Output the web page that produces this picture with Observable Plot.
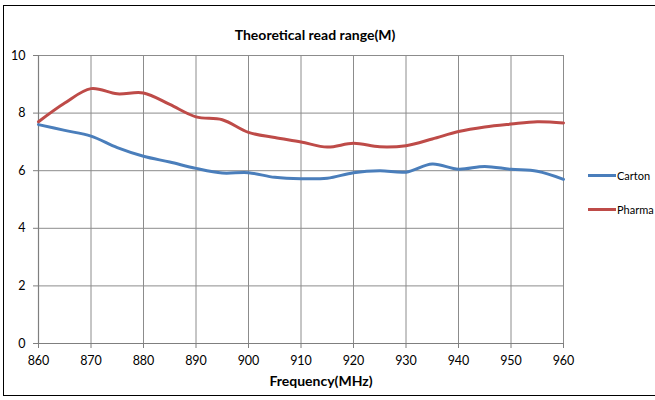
<!DOCTYPE html>
<html>
<head>
<meta charset="utf-8">
<script src="https://cdn.jsdelivr.net/npm/d3@7"></script>
<script src="https://cdn.jsdelivr.net/npm/@observablehq/plot@0.6"></script>
<style>
  html, body { margin: 0; padding: 0; background: #fff; }
  body { width: 655px; height: 400px; overflow: hidden; position: relative; font-family: Lato, "Open Sans", sans-serif; }
  #frame { position: absolute; left: 3px; top: 5px; width: 670px; height: 391px; border: 1px solid #000; box-sizing: border-box; pointer-events: none; }
  #chart { position: absolute; left: 0; top: 0; }
  #legend { position: absolute; left: 588px; top: 167px; font-size: 11px; color: #000; }
  .item { display: flex; align-items: center; height: 17px; margin-bottom: 17px; white-space: nowrap; }
  .sw { width: 28px; height: 3px; margin-right: 1px; }
</style>
</head>
<body>
<div id="chart"></div>
<div id="legend"></div>
<div id="frame"></div>
<script>
const freq = [860, 865, 870, 875, 880, 885, 890, 895, 900, 905, 910, 915, 920, 925, 930, 935, 940, 945, 950, 955, 960];
const carton = [7.6, 7.4, 7.2, 6.8, 6.5, 6.3, 6.08, 5.92, 5.93, 5.77, 5.72, 5.74, 5.93, 6.0, 5.95, 6.23, 6.05, 6.15, 6.05, 5.98, 5.7];
const pharma = [7.7, 8.35, 8.85, 8.67, 8.7, 8.3, 7.87, 7.77, 7.33, 7.15, 7.0, 6.82, 6.95, 6.83, 6.87, 7.1, 7.36, 7.52, 7.62, 7.7, 7.66];
const seriesNames = ["Carton", "Pharma"];
const seriesColors = ["#4a7ebb", "#be4b48"];
const xTicks = [860, 870, 880, 890, 900, 910, 920, 930, 940, 950, 960];
const yTicks = [0, 2, 4, 6, 8, 10];
const title = "Theoretical read range(M)";
const xTitle = "Frequency(MHz)";

const rows = [];
freq.forEach((f, i) => {
  rows.push({f, v: carton[i], s: seriesNames[0]});
  rows.push({f, v: pharma[i], s: seriesNames[1]});
});

const chart = Plot.plot({
  width: 655,
  height: 400,
  marginLeft: 38,
  marginRight: 92,
  marginTop: 55,
  marginBottom: 57,
  style: { fontFamily: "Lato, 'Open Sans', sans-serif", fontSize: "12px", color: "#000", background: "#fff" },
  x: { domain: [860, 960] },
  y: { domain: [0, 10] },
  color: { domain: seriesNames, range: seriesColors },
  marks: [
    Plot.ruleX(xTicks, { stroke: "#8c8c8c", strokeWidth: 1 }),
    Plot.ruleY(yTicks, { stroke: "#8c8c8c", strokeWidth: 1 }),
    Plot.ruleX([860], { stroke: "#7f7f7f", strokeWidth: 1.2 }),
    Plot.ruleY([0], { stroke: "#7f7f7f", strokeWidth: 1.2 }),
    Plot.axisX({ ticks: xTicks, tickSize: 5, tickPadding: 8, tickFormat: d => String(d), label: null, stroke: "#7f7f7f", fontSize: 12.5 }),
    Plot.axisY({ ticks: yTicks, tickSize: 5, tickPadding: 8, tickFormat: d => String(d), label: null, stroke: "#7f7f7f", fontSize: 12.5 }),
    Plot.line(rows, { x: "f", y: "v", z: "s", stroke: "s", strokeWidth: 3, curve: "catmull-rom" }),
    Plot.text([title], { frameAnchor: "top", dx: 14, dy: -25, fontWeight: "bold", fontSize: 14 }),
    Plot.text([xTitle], { frameAnchor: "bottom", dx: 20, dy: 42, fontWeight: "bold", fontSize: 14 })
  ]
});
document.getElementById("chart").appendChild(chart);

const legend = document.getElementById("legend");
seriesNames.forEach((n, i) => {
  const item = document.createElement("div");
  item.className = "item";
  const sw = document.createElement("div");
  sw.className = "sw";
  sw.style.background = seriesColors[i];
  const t = document.createElement("span");
  t.textContent = n;
  item.appendChild(sw);
  item.appendChild(t);
  legend.appendChild(item);
});
</script>
</body>
</html>
